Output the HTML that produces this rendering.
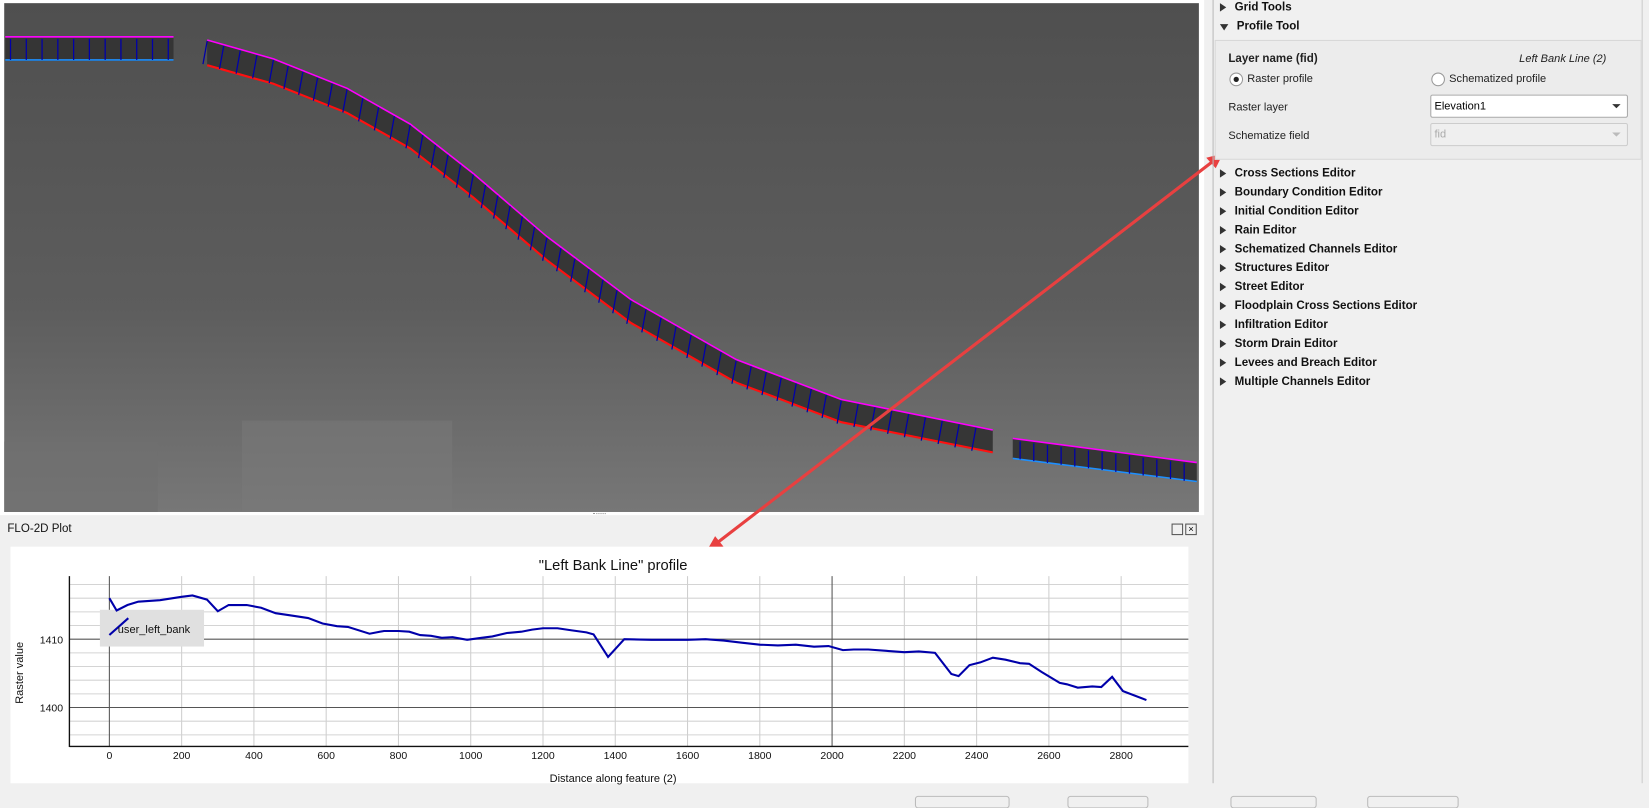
<!DOCTYPE html>
<html><head><meta charset="utf-8"><style>
html,body{margin:0;padding:0;width:1649px;height:799px;overflow:hidden;background:#f0f0f0;font-family:"Liberation Sans",sans-serif;}
#wrap{position:absolute;left:0;top:0;width:1568px;height:760px;transform:scale(1.05166,1.0513);transform-origin:0 0;}
.abs{position:absolute;}
.item{position:absolute;left:1160px;font-size:11px;font-weight:bold;color:#111;}
.tri{display:inline-block;width:0;height:0;border-top:4px solid transparent;border-bottom:4px solid transparent;border-left:6px solid #333;margin-right:8px;vertical-align:-1px;}
.lbl{position:absolute;font-size:10.5px;color:#222;}
</style></head><body>
<div id="wrap">
<svg class="abs" style="left:0;top:0" width="1568" height="760">
 <defs><linearGradient id="g" x1="0" y1="0" x2="0" y2="1"><stop offset="0" stop-color="#4f4f4f"/><stop offset="0.6" stop-color="#5d5d5d"/><stop offset="1" stop-color="#777"/></linearGradient></defs>
 <rect x="0" y="0" width="1145" height="490" fill="#fff"/>
 <rect x="4" y="3" width="1136" height="484" fill="url(#g)"/>
 <rect x="230" y="400" width="200" height="87" fill="#7a7a7a" opacity="0.5"/>
 <rect x="4" y="420" width="146" height="67" fill="#707070" opacity="0.6"/>
 <rect x="5" y="36" width="160" height="22" fill="#353535"/>
 <line x1="5" y1="35" x2="165" y2="35" stroke="#ff00ff" stroke-width="1.5"/>
 <line x1="5" y1="57" x2="165" y2="57" stroke="#1e90ff" stroke-width="1.5"/>
 <polygon points="963,417 1138,440 1138,458 963,436" fill="#353535"/>
 <line x1="963" y1="417" x2="1138" y2="440" stroke="#ff00ff" stroke-width="1.5"/>
 <line x1="963" y1="436" x2="1138" y2="458" stroke="#1e90ff" stroke-width="1.5"/>
 <g id="riv"></g>
 <line x1="1163" y1="146" x2="672" y2="524" stroke="#e84040" stroke-width="3"/>
 <polygon points="1163,146 1147,150 1156,160" fill="#e84040"/>
 <polygon points="672,524 680,510 688,520" fill="#e84040"/>
</svg>
<div class="abs" style="left:564px;top:488px;width:12px;height:2px;border-top:1px dotted #999"></div>
<div class="abs" style="left:1153px;top:0;width:1px;height:745px;background:#bbb"></div>
<div class="abs" style="left:1561px;top:0;width:1px;height:745px;background:#ccc"></div>
<div class="item" style="top:1px"><span class="tri"></span>Grid Tools</div>
<div class="item" style="top:19px"><span class="tri" style="border-left:4px solid transparent;border-right:4px solid transparent;border-top:6px solid #333;border-bottom:0;"></span>Profile Tool</div>
<div class="abs" style="left:1155px;top:38px;width:404px;height:112px;border:1px solid #d8d8d8;background:#ececec"></div>
<div class="lbl" style="left:1168px;top:50px;font-weight:bold;font-size:11px">Layer name (fid)</div>
<div class="lbl" style="left:1486px;top:50px;font-style:italic;transform:translateX(-50%);white-space:nowrap">Left Bank Line (2)</div>
<div class="abs" style="left:1169px;top:69px;width:11px;height:11px;border:1px solid #999;border-radius:50%;background:#fff"><div style="margin:3px;width:5px;height:5px;border-radius:50%;background:#222"></div></div>
<div class="lbl" style="left:1186px;top:69px">Raster profile</div>
<div class="abs" style="left:1361px;top:69px;width:11px;height:11px;border:1px solid #999;border-radius:50%;background:#fff"></div>
<div class="lbl" style="left:1378px;top:69px">Schematized profile</div>
<div class="lbl" style="left:1168px;top:96px">Raster layer</div>
<div class="abs" style="left:1360px;top:90px;width:186px;height:20px;border:1px solid #aaa;background:#fff;border-radius:2px;font-size:10.5px;line-height:20px;text-indent:3px">Elevation1<span style="position:absolute;right:6px;top:8px;border-left:4px solid transparent;border-right:4px solid transparent;border-top:4px solid #333"></span></div>
<div class="lbl" style="left:1168px;top:123px">Schematize field</div>
<div class="abs" style="left:1360px;top:117px;width:186px;height:20px;border:1px solid #ccc;background:#efefef;border-radius:2px;font-size:10.5px;line-height:20px;text-indent:3px;color:#aaa">fid<span style="position:absolute;right:6px;top:8px;border-left:4px solid transparent;border-right:4px solid transparent;border-top:4px solid #bbb"></span></div>
<div id="items"></div>
<div class="abs" style="left:7px;top:497px;font-size:11px;color:#111">FLO-2D Plot</div>
<div class="abs" style="left:1114px;top:498px;width:9px;height:9px;border:1px solid #555"></div>
<div class="abs" style="left:1127px;top:498px;width:9px;height:9px;border:1px solid #555;font-size:9px;line-height:9px;text-align:center">×</div>
<svg class="abs" id="chart" style="left:0;top:0" width="1150" height="760"></svg>
<div class="abs" style="left:870px;top:757px;width:88px;height:10px;border:1px solid #bbb;border-radius:3px"></div>
<div class="abs" style="left:1015px;top:757px;width:75px;height:10px;border:1px solid #bbb;border-radius:3px"></div>
<div class="abs" style="left:1170px;top:757px;width:80px;height:10px;border:1px solid #bbb;border-radius:3px"></div>
<div class="abs" style="left:1300px;top:757px;width:85px;height:10px;border:1px solid #bbb;border-radius:3px"></div>
</div>
<script>
const distances=[0,20,50,80,140,200,230,270,300,330,380,420,460,500,550,590,630,660,720,760,800,830,860,890,920,950,990,1030,1060,1100,1140,1170,1200,1240,1280,1320,1340,1380,1425,1500,1600,1650,1700,1750,1800,1850,1900,1950,1990,2030,2060,2100,2150,2200,2240,2285,2330,2350,2380,2410,2445,2480,2520,2545,2580,2630,2650,2680,2720,2745,2775,2805,2870];
const elevations=[1416.0,1414.2,1415.0,1415.5,1415.7,1416.2,1416.4,1415.8,1414.1,1415.0,1415.0,1414.6,1413.8,1413.5,1413.1,1412.3,1411.9,1411.8,1410.8,1411.2,1411.2,1411.1,1410.6,1410.5,1410.2,1410.3,1409.9,1410.2,1410.4,1410.9,1411.1,1411.4,1411.6,1411.6,1411.3,1411.0,1410.7,1407.4,1410.0,1409.9,1409.9,1410.0,1409.8,1409.5,1409.2,1409.1,1409.2,1408.9,1409.0,1408.4,1408.5,1408.5,1408.3,1408.1,1408.2,1408.0,1404.9,1404.6,1406.2,1406.6,1407.3,1407.0,1406.5,1406.4,1405.2,1403.6,1403.4,1402.9,1403.1,1403.0,1404.5,1402.4,1401.1];
const xTicks=[0,200,400,600,800,1000,1200,1400,1600,1800,2000,2200,2400,2600,2800];
const yTicks=[1400,1410];
const yMinor=[1396,1398,1402,1404,1406,1408,1412,1414,1416,1418];
const items=["Cross Sections Editor","Boundary Condition Editor","Initial Condition Editor","Rain Editor","Schematized Channels Editor","Structures Editor","Street Editor","Floodplain Cross Sections Editor","Infiltration Editor","Storm Drain Editor","Levees and Breach Editor","Multiple Channels Editor"];
const NS="http://www.w3.org/2000/svg";
const ic=document.getElementById('items');
items.forEach((t,i)=>{const d=document.createElement('div');d.className='item';d.style.top=(159+i*18)+'px';d.innerHTML='<span class="tri"></span>'+t;


ic.appendChild(d);});
const riverTop=[[197,38],[260,56],[330,84],[390,118],[450,165],[520,225],[600,285],[700,342],[800,380],[944,409]];
const riv=document.getElementById('riv');
function mk(tag,at,p){const e=document.createElementNS(NS,tag);for(const k in at)e.setAttribute(k,at[k]);(p||riv).appendChild(e);return e;}
const tp=riverTop.map(p=>p.join(',')).join(' ');
const bp=riverTop.map((p,i)=>[p[0],p[1]+24-i*0.3].join(',')).join(' ');
mk('polygon',{points:tp+' '+bp.split(' ').reverse().join(' '),fill:'#363636'});
mk('polyline',{points:tp,fill:'none',stroke:'#ff00ff','stroke-width':1.5});
mk('polyline',{points:bp,fill:'none',stroke:'#ff1010','stroke-width':2});
for(let x=10;x<165;x+=15)mk('line',{x1:x,y1:57,x2:x,y2:37,stroke:'#0000aa','stroke-width':1.2});
for(let x=970;x<1138;x+=13){const y=417+(x-963)*0.131;mk('line',{x1:x,y1:y+19,x2:x,y2:y+2,stroke:'#0000aa','stroke-width':1.2});}
for(let i=0;i<riverTop.length-1;i++){const a=riverTop[i],b=riverTop[i+1];const Ln=Math.hypot(b[0]-a[0],b[1]-a[1]);const n=Math.max(1,Math.round(Ln/16));for(let k=0;k<n;k++){const t=k/n;const x=a[0]+(b[0]-a[0])*t,y=a[1]+(b[1]-a[1])*t;mk('line',{x1:x-4,y1:y+23,x2:x,y2:y+1,stroke:'#0000aa','stroke-width':1.2});}}
const C=document.getElementById('chart');
function ce(tag,at,txt){const e=document.createElementNS(NS,tag);for(const k in at)e.setAttribute(k,at[k]);if(txt!==undefined)e.textContent=txt;C.appendChild(e);return e;}
const L=66,R=1130,T=548,B=710;
const xs=v=>104+v*0.3436;
const ys=v=>608-(v-1410)*6.5;
ce('rect',{x:10,y:520,width:1120,height:225,fill:'#fff'});
let t=ce('text',{x:583,y:542,'text-anchor':'middle','font-size':14,fill:'#111','font-family':'Liberation Sans'},'"Left Bank Line" profile');


yMinor.forEach(v=>{const l=ce('line',{x1:L,x2:R,y1:ys(v),y2:ys(v),stroke:'#d4d4d4'});

});
xTicks.forEach(v=>{const maj=(v%1000===0&&v!==1000);const l=ce('line',{x1:xs(v),x2:xs(v),y1:T,y2:B,stroke:maj?'#555':'#cfcfcf'});


const tx=ce('text',{x:xs(v),y:B+12,'text-anchor':'middle','font-size':10,fill:'#111','font-family':'Liberation Sans'},String(v));

});
yTicks.forEach(v=>{const l=ce('line',{x1:L,x2:R,y1:ys(v),y2:ys(v),stroke:'#555'});


const tx=ce('text',{x:L-6,y:ys(v)+4,'text-anchor':'end','font-size':10,fill:'#111','font-family':'Liberation Sans'},String(v));

});
ce('line',{x1:L,x2:L,y1:T,y2:B+0.5,stroke:'#111','stroke-width':1.3});
ce('line',{x1:L,x2:R,y1:B,y2:B,stroke:'#111','stroke-width':1.3});
const lg=ce('rect',{x:95,y:580,width:99,height:35,fill:'#e0e0e0'});


const pts=distances.map((d,i)=>xs(d).toFixed(1)+','+ys(elevations[i]).toFixed(1)).join(' ');
const ln=ce('polyline',{points:pts,fill:'none',stroke:'#0000aa','stroke-width':2});


ce('line',{x1:104,y1:604,x2:122,y2:588,stroke:'#0000aa','stroke-width':2});
t=ce('text',{x:112,y:602,'font-size':10.5,fill:'#111','font-family':'Liberation Sans'},'user_left_bank');


t=ce('text',{x:583,y:744,'text-anchor':'middle','font-size':10.5,fill:'#111','font-family':'Liberation Sans'},'Distance along feature (2)');


t=ce('text',{x:22,y:640,'text-anchor':'middle','font-size':10.5,fill:'#111','font-family':'Liberation Sans',transform:'rotate(-90 22 640)'},'Raster value');


</script>
</body></html>
